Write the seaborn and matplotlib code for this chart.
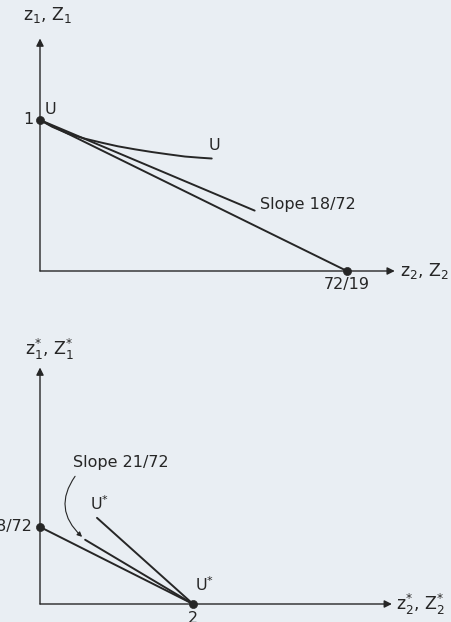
import numpy as np
import pandas as pd
import matplotlib.pyplot as plt
import seaborn as sns

sns.set_theme(style="white")
plt.rcParams['font.family'] = ['DejaVu Sans']
plt.rcParams['mathtext.default'] = 'regular'

BG = '#e9eef3'
INK = '#262626'

# top panel (home country)
top_curve_x = [0.0, 0.15, 0.35, 0.55, 0.76, 0.96, 1.17, 1.38, 1.58, 1.79, 1.98, 2.12]
top_curve_y = [1.0, 0.955, 0.909, 0.877, 0.85, 0.826, 0.806, 0.788, 0.773, 0.758, 0.75, 0.745]
top_slope_x = [0.0, 2.65]
top_slope_y = [1.0, 0.40]
top_budget_x = [0.0, 72 / 19]
top_budget_y = [1.0, 0.0]
top_pts_x = [0.0, 72 / 19]
top_pts_y = [1.0, 0.0]

# bottom panel (foreign country)
bot_budget_x = [2.0, 0.0]
bot_budget_y = [0.0, 38 / 72]
bot_slope_x = [2.0, 0.59]
bot_slope_y = [0.0, 0.44]
bot_u_x = [2.0, 0.745]
bot_u_y = [0.0, 0.59]
bot_pts_x = [0.0, 2.0]
bot_pts_y = [38 / 72, 0.0]

fig = plt.figure(figsize=(4.52, 6.22), dpi=100, facecolor=BG)
ax1 = fig.add_axes([0, 322 / 622, 1, 300 / 622])
ax2 = fig.add_axes([0, 0, 1, 322 / 622])
for ax in (ax1, ax2):
    ax.set_facecolor(BG)
    ax.set_axis_off()

ax1.set_xlim(-40 / 81, 412 / 81)
ax1.set_ylim(-29 / 151, 271 / 151)
ax2.set_xlim(-40 / 76.5, 412 / 76.5)
ax2.set_ylim(-18 / 146, 304 / 146)

axis_kw = dict(arrowstyle='-|>', color=INK, lw=1.0, mutation_scale=11, shrinkA=0, shrinkB=0)
line_kw = dict(color=INK, lw=1.4, sort=False, legend=False)

fs = 11.5

# --- top
ax1.annotate('', xy=(4.38, 0), xytext=(0, 0), arrowprops=axis_kw)
ax1.annotate('', xy=(0, 1.54), xytext=(0, 0), arrowprops=axis_kw)
sns.lineplot(x=top_curve_x, y=top_curve_y, ax=ax1, **line_kw)
sns.lineplot(x=top_slope_x, y=top_slope_y, ax=ax1, **line_kw)
sns.lineplot(x=top_budget_x, y=top_budget_y, ax=ax1, **line_kw)
sns.scatterplot(x=top_pts_x, y=top_pts_y, ax=ax1, color=INK, s=34, edgecolor=INK, zorder=5)

ax1.text(-0.08, 1.0, '1', ha='right', va='center', fontsize=fs, color=INK)
ax1.text(0.06, 1.02, 'U', ha='left', va='bottom', fontsize=fs, color=INK)
ax1.text(2.08, 0.78, 'U', ha='left', va='bottom', fontsize=fs, color=INK)
ax1.text(2.72, 0.44, 'Slope 18/72', ha='left', va='center', fontsize=fs, color=INK)
ax1.text(72 / 19, -0.04, '72/19', ha='center', va='top', fontsize=fs, color=INK)
ax1.text(4.45, 0.0, '$z_2$, $Z_2$', ha='left', va='center', fontsize=fs + 1, color=INK)
ax1.text(0.1, 1.63, '$z_1$, $Z_1$', ha='center', va='bottom', fontsize=fs + 1, color=INK)

# --- bottom
ax2.annotate('', xy=(4.6, 0), xytext=(0, 0), arrowprops=axis_kw)
ax2.annotate('', xy=(0, 1.62), xytext=(0, 0), arrowprops=axis_kw)
sns.lineplot(x=bot_budget_x, y=bot_budget_y, ax=ax2, **line_kw)
sns.lineplot(x=bot_slope_x, y=bot_slope_y, ax=ax2, **line_kw)
sns.lineplot(x=bot_u_x, y=bot_u_y, ax=ax2, **line_kw)
sns.scatterplot(x=bot_pts_x, y=bot_pts_y, ax=ax2, color=INK, s=34, edgecolor=INK, zorder=5)

ax2.text(-0.1, 38 / 72, '38/72', ha='right', va='center', fontsize=fs, color=INK)
ax2.text(2.0, -0.05, '2', ha='center', va='top', fontsize=fs, color=INK)
ax2.text(2.03, 0.07, '$U^{*}$', ha='left', va='bottom', fontsize=fs, color=INK)
ax2.text(0.66, 0.62, '$U^{*}$', ha='left', va='bottom', fontsize=fs, color=INK)
ax2.text(0.43, 0.97, 'Slope 21/72', ha='left', va='center', fontsize=fs, color=INK)
ax2.annotate('', xy=(0.55, 0.46), xytext=(0.48, 0.89),
             arrowprops=dict(arrowstyle='-|>', color=INK, lw=0.8, mutation_scale=7,
                             connectionstyle='arc3,rad=0.45', shrinkA=2, shrinkB=0))
ax2.text(4.65, 0.0, '$z_2^{*}$, $Z_2^{*}$', ha='left', va='center', fontsize=fs + 1, color=INK)
ax2.text(0.12, 1.66, '$z_1^{*}$, $Z_1^{*}$', ha='center', va='bottom', fontsize=fs + 1, color=INK)

fig.savefig('out.png', dpi=100, facecolor=BG)
